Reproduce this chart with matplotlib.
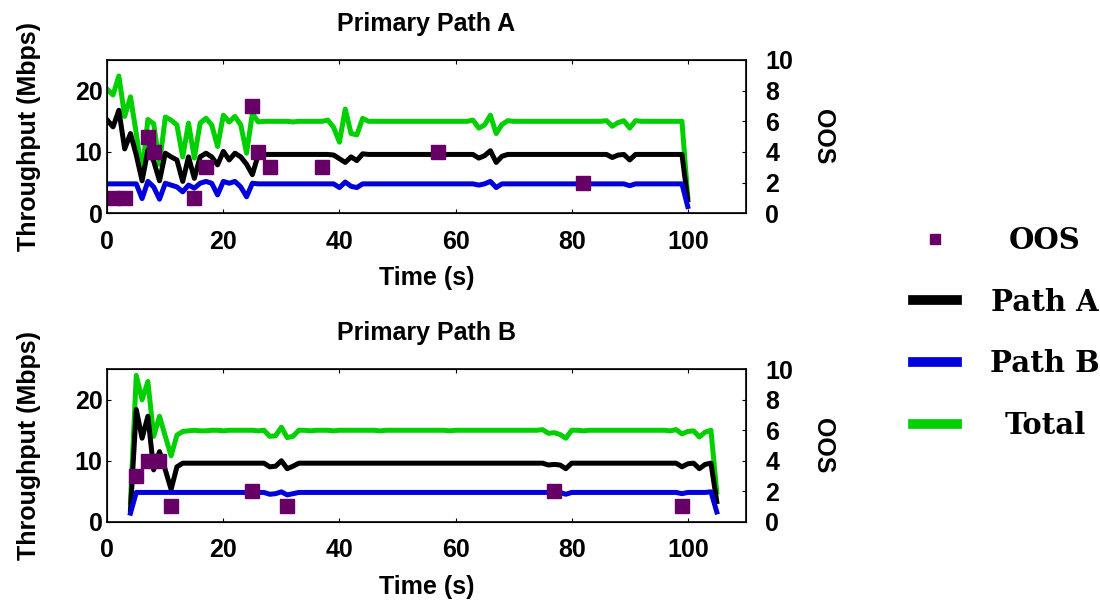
import matplotlib
matplotlib.use('Agg')
import matplotlib.pyplot as plt
import numpy as np

plt.rcParams['font.family'] = ['Liberation Sans', 'DejaVu Sans']
plt.rcParams['font.weight'] = 'bold'

# ---- Primary Path A (t = 0..100 s) ----
time_a = np.arange(0, 101)
total_a = [20.2, 19.3, 22.4, 15.8, 19.0, 13.0, 6.4, 15.3, 14.6, 8.0,
           15.7, 15.2, 14.4, 9.2, 14.7, 9.0, 14.7, 15.5, 14.4, 10.9,
           16.0, 14.9, 15.8, 14.4, 9.8, 16.3, 14.9, 15.0, 15.0, 15.0,
           15.0, 15.0, 14.9, 15.0, 15.0, 15.0, 15.0, 15.0, 15.2, 14.0,
           11.6, 17.0, 13.0, 12.8, 15.5, 15.0, 15.0, 15.0, 15.0, 15.0,
           15.0, 15.0, 15.0, 15.0, 15.0, 15.0, 15.0, 15.0, 15.0, 15.0,
           15.0, 15.0, 15.0, 15.2, 13.9, 14.4, 16.0, 13.0, 14.5, 15.1,
           15.0, 15.0, 15.0, 15.0, 15.0, 15.0, 15.0, 15.0, 15.0, 15.0,
           15.0, 15.0, 15.0, 15.0, 15.0, 15.0, 15.1, 14.2, 14.8, 15.1,
           13.9, 15.1, 15.0, 15.0, 15.0, 15.0, 15.0, 15.0, 15.0, 15.0,
           2.7]
path_a_a = [15.2, 14.1, 16.8, 10.5, 13.0, 9.5, 5.3, 10.3, 8.5, 5.3,
            9.8, 9.2, 8.7, 5.2, 9.2, 5.7, 9.2, 9.8, 9.2, 7.9,
            10.1, 8.7, 9.8, 9.2, 8.0, 6.3, 9.5, 9.6, 9.6, 9.6,
            9.6, 9.6, 9.6, 9.6, 9.6, 9.6, 9.6, 9.6, 9.6, 9.5,
            8.9, 8.3, 9.2, 8.6, 9.7, 9.6, 9.6, 9.6, 9.6, 9.6,
            9.6, 9.6, 9.6, 9.6, 9.6, 9.6, 9.6, 9.6, 9.6, 9.6,
            9.6, 9.6, 9.6, 9.6, 9.0, 9.4, 10.2, 8.3, 9.3, 9.6,
            9.6, 9.6, 9.6, 9.6, 9.6, 9.6, 9.6, 9.6, 9.6, 9.6,
            9.6, 9.6, 9.6, 9.6, 9.6, 9.6, 9.6, 9.1, 9.5, 9.6,
            8.7, 9.6, 9.6, 9.6, 9.6, 9.6, 9.6, 9.6, 9.6, 9.6,
            2.2]
path_b_a = [4.8, 4.8, 4.8, 4.8, 4.8, 4.8, 2.4, 5.2, 4.3, 2.3,
            4.9, 4.6, 4.3, 3.5, 4.6, 4.1, 4.9, 5.2, 4.9, 3.0,
            5.2, 4.9, 5.2, 4.3, 2.7, 4.9, 4.8, 4.8, 4.8, 4.8,
            4.8, 4.8, 4.8, 4.8, 4.8, 4.8, 4.8, 4.8, 4.8, 4.8,
            4.2, 5.1, 4.4, 4.2, 4.8, 4.8, 4.8, 4.8, 4.8, 4.8,
            4.8, 4.8, 4.8, 4.8, 4.8, 4.8, 4.8, 4.8, 4.8, 4.8,
            4.8, 4.8, 4.8, 4.8, 4.6, 4.8, 5.2, 4.2, 4.8, 4.8,
            4.8, 4.8, 4.8, 4.8, 4.8, 4.8, 4.8, 4.8, 4.8, 4.8,
            4.8, 4.8, 4.8, 4.8, 4.8, 4.8, 4.8, 4.8, 4.8, 4.8,
            4.5, 4.8, 4.8, 4.8, 4.8, 4.8, 4.8, 4.8, 4.8, 4.8,
            1.1]
oos_t_a = [1, 3, 7, 8, 15, 17, 25, 26, 28, 37, 57, 82]
oos_a = [1, 1, 5, 4, 1, 3, 7, 4, 3, 3, 4, 2]

# ---- Primary Path B (t = 4..105 s) ----
time_b = np.arange(4, 106)
total_b = [3.2, 24.0, 20.0, 23.0, 14.0, 17.3, 14.0, 10.8, 14.2, 14.8,
           14.9, 15.0, 14.9, 14.9, 15.0, 15.0, 14.9, 15.0, 15.0, 15.0,
           15.0, 15.0, 14.9, 15.0, 14.0, 14.1, 15.5, 13.8, 14.0, 15.0,
           15.0, 14.9, 15.0, 15.0, 15.0, 14.9, 15.0, 15.0, 15.0, 15.0,
           15.0, 15.0, 15.0, 14.9, 15.0, 15.0, 15.0, 15.0, 15.0, 15.0,
           15.0, 15.0, 15.0, 15.0, 15.0, 14.9, 15.0, 15.0, 15.0, 15.0,
           15.0, 15.0, 15.0, 15.0, 15.0, 15.0, 15.0, 15.0, 15.0, 15.0,
           15.0, 15.1, 14.5, 14.6, 14.3, 13.7, 15.0, 15.0, 14.9, 15.0,
           15.0, 15.0, 15.0, 15.0, 15.0, 15.0, 15.0, 15.0, 15.0, 15.0,
           15.0, 15.0, 15.0, 14.9, 15.1, 14.4, 14.8, 14.9, 13.9, 14.7,
           15.0, 4.9]
path_a_b = [1.9, 18.4, 13.7, 17.3, 8.5, 11.5, 8.5, 5.3, 9.0, 9.6,
            9.6, 9.6, 9.6, 9.6, 9.6, 9.6, 9.6, 9.6, 9.6, 9.6,
            9.6, 9.6, 9.6, 9.6, 9.0, 9.1, 10.0, 8.7, 9.1, 9.6,
            9.6, 9.6, 9.6, 9.6, 9.6, 9.6, 9.6, 9.6, 9.6, 9.6,
            9.6, 9.6, 9.6, 9.6, 9.6, 9.6, 9.6, 9.6, 9.6, 9.6,
            9.6, 9.6, 9.6, 9.6, 9.6, 9.6, 9.6, 9.6, 9.6, 9.6,
            9.6, 9.6, 9.6, 9.6, 9.6, 9.6, 9.6, 9.6, 9.6, 9.6,
            9.6, 9.6, 9.3, 9.4, 9.3, 8.7, 9.6, 9.6, 9.6, 9.6,
            9.6, 9.6, 9.6, 9.6, 9.6, 9.6, 9.6, 9.6, 9.6, 9.6,
            9.6, 9.6, 9.6, 9.6, 9.6, 9.0, 9.5, 9.6, 8.7, 9.4,
            9.6, 3.3]
path_b_b = [1.4, 4.8, 4.8, 4.8, 4.8, 4.8, 4.8, 4.8, 4.8, 4.8,
            4.8, 4.8, 4.8, 4.8, 4.8, 4.8, 4.8, 4.8, 4.8, 4.8,
            4.8, 4.8, 4.8, 4.8, 4.5, 4.6, 4.9, 4.4, 4.6, 4.8,
            4.8, 4.8, 4.8, 4.8, 4.8, 4.8, 4.8, 4.8, 4.8, 4.8,
            4.8, 4.8, 4.8, 4.8, 4.8, 4.8, 4.8, 4.8, 4.8, 4.8,
            4.8, 4.8, 4.8, 4.8, 4.8, 4.8, 4.8, 4.8, 4.8, 4.8,
            4.8, 4.8, 4.8, 4.8, 4.8, 4.8, 4.8, 4.8, 4.8, 4.8,
            4.8, 4.8, 4.8, 4.8, 4.8, 4.5, 4.8, 4.8, 4.8, 4.8,
            4.8, 4.8, 4.8, 4.8, 4.8, 4.8, 4.8, 4.8, 4.8, 4.8,
            4.8, 4.8, 4.8, 4.8, 4.8, 4.6, 4.8, 4.8, 4.8, 4.8,
            4.9, 1.6]
oos_t_b = [5, 7, 9, 11, 25, 31, 77, 99]
oos_b = [3, 4, 4, 1, 2, 1, 2, 1]

titles = ['Primary Path A', 'Primary Path B']
x_ticks = [0, 20, 40, 60, 80, 100]
y_ticks = [0, 10, 20]
oos_ticks = [0, 2, 4, 6, 8, 10]

c_a = 'black'
c_b = '#0000dd'
c_tot = '#00d000'
c_oos = '#660066'
fs = 18

fig = plt.figure(figsize=(11, 6), dpi=100)
ax1 = fig.add_axes([0.0975, 0.6445, 0.5805, 0.2555])
ax2 = fig.add_axes([0.0975, 0.1305, 0.5805, 0.254])

panels = [(ax1, time_a, path_a_a, path_b_a, total_a, oos_t_a, oos_a),
          (ax2, time_b, path_a_b, path_b_b, total_b, oos_t_b, oos_b)]

for i, (ax, t, pa, pb, tot, ot, oo) in enumerate(panels):
    ax.plot(t, tot, color=c_tot, lw=3.6, label='Total', zorder=2)
    ax.plot(t, pa, color=c_a, lw=3.6, label='Path A', zorder=3)
    ax.plot(t, pb, color=c_b, lw=3.6, label='Path B', zorder=4)
    ax.set_xlim(0, 110)
    ax.set_ylim(0, 25)
    ax.set_xticks(x_ticks)
    ax.set_yticks(y_ticks)
    ax.tick_params(direction='in', length=3, top=True, right=False,
                   labelsize=fs, width=0.8)
    ax.tick_params(axis='x', pad=12)
    ax.set_xlabel('Time (s)', fontsize=fs, fontweight='bold', labelpad=9)
    ax.set_ylabel('Throughput (Mbps)', fontsize=fs, fontweight='bold',
                  labelpad=24)
    ax.set_title(titles[i], fontsize=fs, fontweight='bold', pad=21)
    for s in ax.spines.values():
        s.set_linewidth(1.2)

    axr = ax.twinx()
    axr.plot(ot, oo, 's', color=c_oos, ms=9.5, ls='none', label='OOS')
    axr.set_ylim(0, 10)
    axr.set_yticks(oos_ticks)
    axr.tick_params(direction='in', length=3, labelsize=fs, pad=14)
    axr.set_ylabel('OOS', fontsize=fs, fontweight='bold', rotation=270,
                   labelpad=30)
    for lab in ax.get_xticklabels() + ax.get_yticklabels() + axr.get_yticklabels():
        lab.set_fontweight('bold')

h_l, l_l = ax1.get_legend_handles_labels()
h_r, l_r = fig.axes[2].get_legend_handles_labels()
handles = h_r + [h_l[1], h_l[2], h_l[0]]
labels = l_r + [l_l[1], l_l[2], l_l[0]]
leg = fig.legend(handles, labels, loc='center left', bbox_to_anchor=(0.806, 0.445),
                 frameon=False, handlelength=1.5, labelspacing=1.12,
                 handletextpad=1.15, markerscale=0.75,
                 prop={'family': 'DejaVu Serif', 'size': 21, 'weight': 'bold'})
for line in leg.get_lines():
    line.set_linewidth(7)

# centre the legend labels in their column
fig.canvas.draw()
r = fig.canvas.get_renderer()
widths = [tx.get_window_extent(r).width for tx in leg.get_texts()]
for tx, w in zip(leg.get_texts(), widths):
    tx.set_position(((max(widths) - w) / 2, 0))

fig.savefig('out.png', dpi=100)
